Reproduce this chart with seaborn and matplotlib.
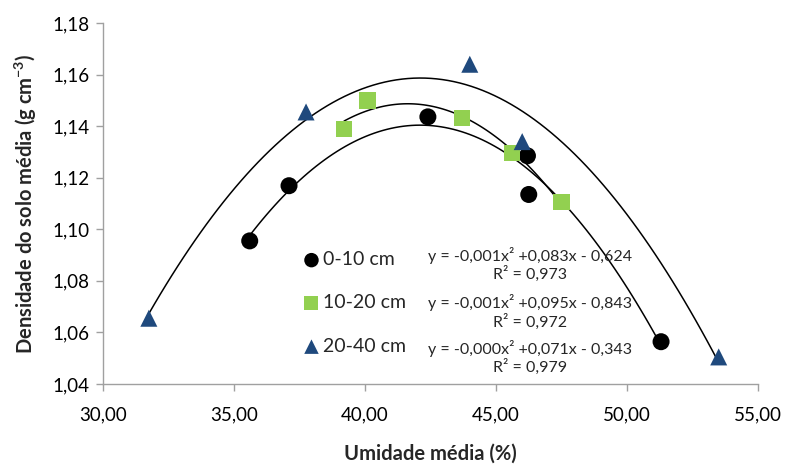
import numpy as np
import pandas as pd
import matplotlib
matplotlib.use("Agg")
import matplotlib.pyplot as plt
import seaborn as sns

# Data
x_0_10 = [35.6, 37.1, 42.4, 46.2, 46.25, 51.3]
y_0_10 = [1.0955, 1.1169, 1.1436, 1.1285, 1.1135, 1.0564]
x_10_20 = [39.2, 40.1, 43.7, 45.6, 47.5]
y_10_20 = [1.1390, 1.1500, 1.1432, 1.1295, 1.1105]
x_20_40 = [31.75, 37.75, 44.0, 46.0, 53.5]
y_20_40 = [1.0655, 1.1455, 1.1640, 1.1340, 1.0505]

labels = ["0-10 cm", "10-20 cm", "20-40 cm"]
equations = ["y = -0,001x² +0,083x - 0,624", "y = -0,001x² +0,095x - 0,843", "y = -0,000x² +0,071x - 0,343"]
r2 = ["R² = 0,973", "R² = 0,972", "R² = 0,979"]
x_ticks = [30, 35, 40, 45, 50, 55]
y_ticks = [1.04, 1.06, 1.08, 1.10, 1.12, 1.14, 1.16, 1.18]

colors = {"0-10 cm": "#000000", "10-20 cm": "#92D050", "20-40 cm": "#1F497D"}
markers = {"0-10 cm": "o", "10-20 cm": "s", "20-40 cm": "^"}

df = pd.concat([
    pd.DataFrame({"x": x_0_10, "y": y_0_10, "Prof": labels[0]}),
    pd.DataFrame({"x": x_10_20, "y": y_10_20, "Prof": labels[1]}),
    pd.DataFrame({"x": x_20_40, "y": y_20_40, "Prof": labels[2]}),
], ignore_index=True)

sns.set_theme(style="white")
plt.rcParams["font.family"] = ["Lato", "DejaVu Sans"]
plt.rcParams["mathtext.default"] = "regular"

fig = plt.figure(figsize=(7.87, 4.68), dpi=100)
ax = fig.add_axes([103 / 787, (468 - 384) / 468, (758 - 103) / 787, (384 - 23) / 468])

for lab in labels:
    sub = df[df["Prof"] == lab]
    sns.regplot(data=sub, x="x", y="y", order=2, ci=None, scatter=False, truncate=True,
                line_kws=dict(color="black", lw=1.1), ax=ax)

sizes = {"0-10 cm": 150, "10-20 cm": 140, "20-40 cm": 150}
for lab in labels:
    sub = df[df["Prof"] == lab]
    ax.scatter(sub["x"], sub["y"], s=sizes[lab], marker=markers[lab], color=colors[lab],
               edgecolors="none", zorder=3, label=lab)

ax.set_xlim(30, 55)
ax.set_ylim(1.04, 1.18)
ax.set_xticks(x_ticks)
ax.set_yticks(y_ticks)
ax.set_xticklabels([f"{v:.2f}".replace(".", ",") for v in x_ticks], fontsize=13.5)
ax.set_yticklabels([f"{v:.2f}".replace(".", ",") for v in y_ticks], fontsize=13.5)
ax.tick_params(axis="both", direction="out", length=5, width=1, color="#A0A0A0",
               bottom=True, left=True, labelcolor="#000000")
ax.tick_params(axis="x", pad=11)
ax.tick_params(axis="y", pad=5)
for s in ["top", "right"]:
    ax.spines[s].set_visible(False)
for s in ["left", "bottom"]:
    ax.spines[s].set_color("#A0A0A0")
    ax.spines[s].set_linewidth(1)

ax.set_xlabel("Umidade média (%)", fontsize=14.5, fontweight="bold", labelpad=15)
ax.set_ylabel("Densidade do solo média (g cm$^{-3}$)", fontsize=14.5, fontweight="bold", labelpad=9)

leg = ax.legend(loc="center left", bbox_to_anchor=((293 - 103) / 655, (384 - 303) / 361),
                frameon=False, fontsize=14, labelspacing=1.35, handletextpad=0.05,
                handlelength=1.1, borderaxespad=0, markerscale=0.85)

ty = [(1.0897, 1.0828), (1.0715, 1.0641), (1.0537, 1.0467)]
for eq, r, (y1, y2) in zip(equations, r2, ty):
    ax.text(46.3, y1, eq, ha="center", va="center", fontsize=11.5)
    ax.text(46.3, y2, r, ha="center", va="center", fontsize=11.5)

fig.savefig("out.png", dpi=100)
